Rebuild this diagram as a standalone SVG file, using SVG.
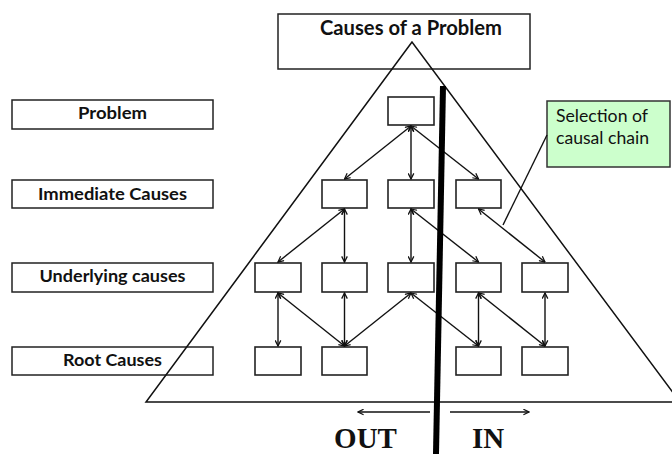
<svg xmlns="http://www.w3.org/2000/svg" width="672" height="454" viewBox="0 0 672 454">
<defs>
<marker id="ah" viewBox="0 0 10 10" refX="9" refY="5" markerWidth="7" markerHeight="7" orient="auto-start-reverse" markerUnits="userSpaceOnUse">
<path d="M1,1 L9,5 L1,9" fill="none" stroke="#111" stroke-width="1.8"/>
</marker>
<style>
.lbl{fill:#fff;stroke:#222;stroke-width:1.5}
.box{fill:#fff;stroke:#222;stroke-width:1.6}
.t{font-family:Lato,"Open Sans",sans-serif;font-weight:bold;font-size:17px;fill:#111;text-anchor:middle}
.g{font-family:Lato,"Open Sans",sans-serif;font-size:17px;fill:#111}
.o{font-family:"Liberation Serif",serif;font-weight:bold;font-size:29px;fill:#111;text-anchor:middle}
.c{stroke:#111;stroke-width:1.4;fill:none;marker-start:url(#ah);marker-end:url(#ah)}
.s{stroke:#111;stroke-width:1.4;fill:none;marker-end:url(#ah)}
</style>
</defs>
<rect width="672" height="454" fill="#fff"/>

<g id="title">
<rect x="278" y="14" width="252" height="55" class="lbl"/>
<text x="411" y="35" class="t" style="font-size:20px" textLength="182" lengthAdjust="spacingAndGlyphs">Causes of a Problem</text>
</g>

<g id="label-problem"><rect x="12" y="100" width="201" height="29" class="lbl"/><text x="112.5" y="119" class="t" textLength="69" lengthAdjust="spacingAndGlyphs">Problem</text></g>
<g id="label-immediate"><rect x="12" y="180" width="201" height="28" class="lbl"/><text x="112.5" y="200" class="t" textLength="149" lengthAdjust="spacingAndGlyphs">Immediate Causes</text></g>
<g id="label-underlying"><rect x="12" y="263" width="201" height="29" class="lbl"/><text x="112.5" y="282" class="t" textLength="146" lengthAdjust="spacingAndGlyphs">Underlying causes</text></g>
<g id="label-root"><rect x="12" y="347" width="201" height="28" class="lbl"/><text x="112.5" y="366" class="t" textLength="99" lengthAdjust="spacingAndGlyphs">Root Causes</text></g>

<g id="triangle"><polygon points="412,42 146,402 680,402" fill="none" stroke="#111" stroke-width="1.5"/></g>

<g id="P"><rect x="388" y="97" width="46" height="28" class="box"/></g>
<g id="I2"><rect x="322" y="180" width="45" height="28" class="box"/></g>
<g id="I3"><rect x="388" y="180" width="46" height="28" class="box"/></g>
<g id="I4"><rect x="456" y="180" width="45" height="28" class="box"/></g>
<g id="U1"><rect x="255" y="263" width="46" height="29" class="box"/></g>
<g id="U2"><rect x="322" y="263" width="45" height="29" class="box"/></g>
<g id="U3"><rect x="388" y="263" width="46" height="29" class="box"/></g>
<g id="U4"><rect x="456" y="263" width="45" height="29" class="box"/></g>
<g id="U5"><rect x="522" y="263" width="46" height="29" class="box"/></g>
<g id="R1"><rect x="255" y="347" width="46" height="28" class="box"/></g>
<g id="R2"><rect x="322" y="347" width="45" height="28" class="box"/></g>
<g id="R4"><rect x="456" y="347" width="45" height="28" class="box"/></g>
<g id="R5"><rect x="522" y="347" width="46" height="28" class="box"/></g>

<g id="callout">
<rect x="547" y="101" width="123" height="66" fill="#ccffcc" stroke="#333" stroke-width="1.5"/>
<text x="556" y="122" class="g" textLength="92" lengthAdjust="spacingAndGlyphs">Selection of</text>
<text x="556" y="144" class="g" textLength="93" lengthAdjust="spacingAndGlyphs">causal chain</text>
</g>

<g id="connectors">
<line x1="411" y1="126" x2="344.5" y2="179" class="c"/>
<line x1="411" y1="126" x2="411" y2="179" class="c"/>
<line x1="411" y1="126" x2="478.5" y2="179" class="c"/>
<line x1="344.5" y1="209" x2="278" y2="262" class="c"/>
<line x1="344.5" y1="209" x2="344.5" y2="262" class="c"/>
<line x1="411" y1="209" x2="411" y2="262" class="c"/>
<line x1="411" y1="209" x2="478.5" y2="262" class="c"/>
<line x1="478.5" y1="209" x2="545" y2="262" class="c"/>
<line x1="278" y1="293" x2="278" y2="346" class="c"/>
<line x1="278" y1="293" x2="344.5" y2="346" class="c"/>
<line x1="344.5" y1="293" x2="344.5" y2="346" class="c"/>
<line x1="411" y1="293" x2="344.5" y2="346" class="c"/>
<line x1="411" y1="293" x2="478.5" y2="346" class="c"/>
<line x1="478.5" y1="293" x2="478.5" y2="346" class="c"/>
<line x1="478.5" y1="293" x2="545" y2="346" class="c"/>
<line x1="545" y1="293" x2="545" y2="346" class="c"/>
<line x1="547" y1="135" x2="503" y2="225" stroke="#111" stroke-width="1.4"/>
<line x1="430" y1="412" x2="358" y2="412" class="s"/>
<line x1="450" y1="412" x2="529" y2="412" class="s"/>
</g>

<g id="divider"><line x1="443" y1="86" x2="436" y2="454" stroke="#000" stroke-width="6"/></g>

<g id="out-in">
<text x="365.5" y="448" class="o">OUT</text>
<text x="488" y="448" class="o">IN</text>
</g>
</svg>
